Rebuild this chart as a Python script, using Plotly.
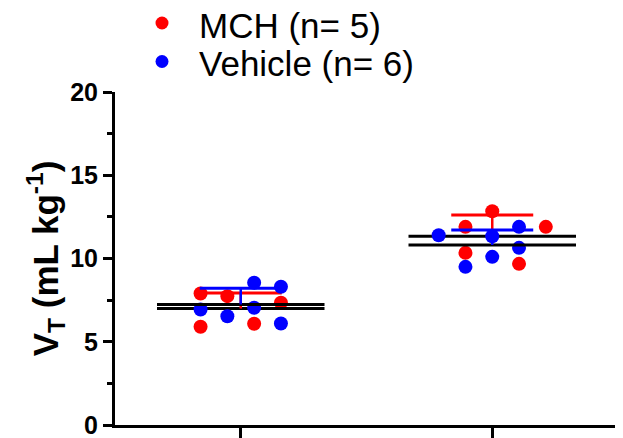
import numpy as np
import plotly.graph_objects as go

# ---- data ----
categories = ["Condition 1", "Condition 2"]
mch_cond1 = [7.90, 7.74, 7.34, 5.90, 6.08]
mch_cond2 = [12.84, 11.90, 11.90, 10.34, 9.68]
veh_cond1 = [8.54, 8.30, 6.94, 6.53, 7.04, 6.10]
veh_cond2 = [11.40, 11.90, 11.34, 10.64, 10.10, 9.50]
series_names = ["MCH (n= 5)", "Vehicle (n= 6)"]
y_ticks = [0, 5, 10, 15, 20]

# ---- layout of the scatter (beeswarm slots) ----
mch_slots = [[-1.5, -0.5, 1.5, -1.5, 0.5], [0, -1, 2, -1, 1]]
veh_slots = [[0.5, 1.5, -1.5, -0.5, 0.5, 1.5], [-2, 1, 0, 1, 0, -1]]
slot_w = 0.1065
mean_half = 0.333
cap_half = 0.163

RED = "#ff0000"
BLUE = "#0000ff"
FONT = "Liberation Sans, Arial, sans-serif"

# page has an 8px body margin, so the figure is shrunk and offset by it
OFF = 8
W, H = 623 - OFF, 438 - OFF
ML, MR, MT, MB = 115 - OFF, 5, 92 - OFF, 13
PW, PH = W - ML - MR, H - MT - MB

def page_to_paper(px, py):
    fx, fy = px - OFF, py - OFF
    return (fx - ML) / PW, (H - MB - fy) / PH

fig = go.Figure()

def add_series(name, color, groups, slots):
    xs, ys = [], []
    for gi, (vals, sl) in enumerate(zip(groups, slots)):
        for v, s in zip(vals, sl):
            xs.append(gi + s * slot_w)
            ys.append(v)
    fig.add_trace(go.Scatter(x=xs, y=ys, mode="markers", name=name,
                             marker=dict(color=color, size=14, line=dict(width=0)),
                             showlegend=False))
    for gi, vals in enumerate(groups):
        m = float(np.mean(vals))
        sd = float(np.std(vals, ddof=1))
        fig.add_trace(go.Scatter(x=[gi - mean_half, gi + mean_half], y=[m, m],
                                 mode="lines", line=dict(color="black", width=3),
                                 showlegend=False, hoverinfo="skip"))
        fig.add_trace(go.Scatter(x=[gi, gi], y=[m, m + sd], mode="lines",
                                 line=dict(color=color, width=2.5),
                                 showlegend=False, hoverinfo="skip"))
        fig.add_trace(go.Scatter(x=[gi - cap_half, gi + cap_half], y=[m + sd, m + sd],
                                 mode="lines", line=dict(color=color, width=3),
                                 showlegend=False, hoverinfo="skip"))

add_series(series_names[0], RED, [mch_cond1, mch_cond2], mch_slots)
add_series(series_names[1], BLUE, [veh_cond1, veh_cond2], veh_slots)

# ---- legend (drawn manually for exact spacing) ----
legend_rows = [(series_names[0], RED, 23.0, 25.0), (series_names[1], BLUE, 61.5, 63.5)]
for name, color, dot_y, text_y in legend_rows:
    dx, dy = page_to_paper(162, dot_y)
    fig.add_shape(type="circle", xref="paper", yref="paper",
                  xsizemode="pixel", ysizemode="pixel", xanchor=dx, yanchor=dy,
                  x0=-6.5, x1=6.5, y0=-6.5, y1=6.5,
                  fillcolor=color, line=dict(width=0))
    tx, ty = page_to_paper(197, text_y)
    fig.add_annotation(xref="paper", yref="paper", x=tx, y=ty, xanchor="left",
                       yanchor="middle", text=name, showarrow=False,
                       font=dict(size=35, family=FONT, color="black"))

fig.update_layout(
    width=W, height=H,
    margin=dict(l=ML, r=MR, t=MT, b=MB, autoexpand=False),
    paper_bgcolor="white", plot_bgcolor="white",
    font=dict(family=FONT, color="black"),
    showlegend=False,
)
fig.update_xaxes(range=[-0.5, 1.5], tickvals=[0, 1], ticktext=categories,
                 showticklabels=False, showline=True, linecolor="black", linewidth=3,
                 ticks="outside", ticklen=10, tickwidth=3, tickcolor="black",
                 showgrid=False, zeroline=False, fixedrange=True)
fig.update_yaxes(range=[0, 20], tickvals=y_ticks,
                 showline=True, linecolor="black", linewidth=3,
                 ticks="outside", ticklen=9, tickwidth=3, tickcolor="black",
                 minor=dict(dtick=2.5, ticks="outside", ticklen=5, tickwidth=3, tickcolor="black"),
                 tickfont=dict(size=25, family=FONT, color="black", weight="bold"),
                 ticklabeloverflow="allow",
                 title=dict(text="<b>V<sub>T</sub> (mL kg<sup>-1</sup>)</b>",
                            font=dict(size=35, family=FONT, color="black"), standoff=0),
                 showgrid=False, zeroline=False, fixedrange=True)

fig.write_html("out.html")
